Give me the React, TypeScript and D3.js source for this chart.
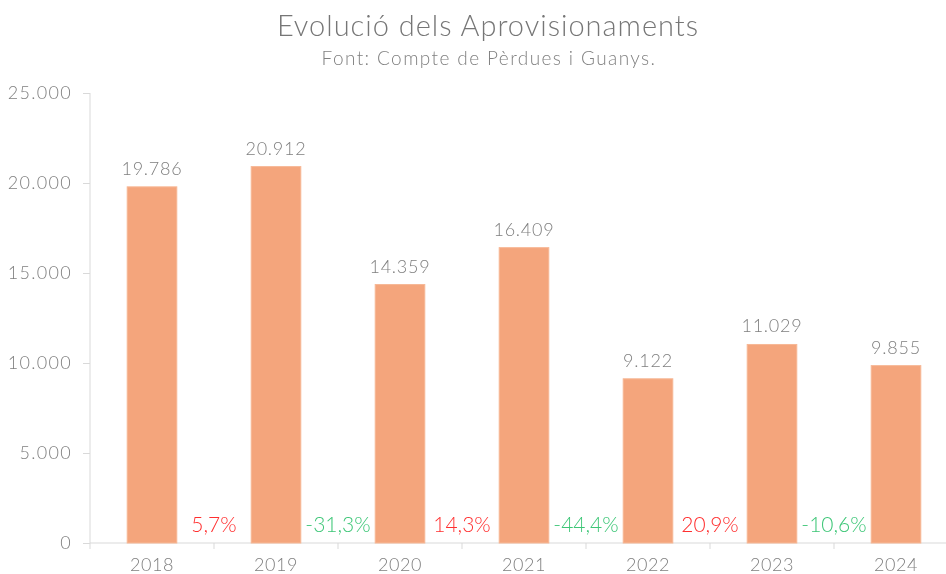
import React, { useEffect, useRef } from 'react';
import * as d3 from 'd3';

const years = ['2018', '2019', '2020', '2021', '2022', '2023', '2024'];
const values = [19786, 20912, 14359, 16409, 9122, 11029, 9855];
// year-on-year change, shown between bars (from 2019 on)
const changes = [5.7, -31.3, 14.3, -44.4, 20.9, -10.6];
const yTicks = [0, 5000, 10000, 15000, 20000, 25000];

const title = 'Evolució dels Aprovisionaments';
const subtitle = 'Font: Compte de Pèrdues i Guanys.';

const App = () => {
  const ref = useRef<SVGSVGElement>(null);

  useEffect(() => {
    const width = 946;
    const height = 574;
    const margin = { top: 93, right: -12, bottom: 31, left: 90 };
    const font = 'Lato, sans-serif';
    const gray = '#7f7f7f';

    const locale = d3.formatLocale({ decimal: ',', thousands: '.', grouping: [3], currency: ['', '€'], minus: '-' });
    const fmt = locale.format(',d');
    const fmtPct = (v: number) => locale.format('.1f')(v) + '%';

    const x = d3.scaleBand<string>()
      .domain(years)
      .range([margin.left, width - margin.right])
      .padding(0);

    const y = d3.scaleLinear()
      .domain([0, 25000])
      .range([height - margin.bottom, margin.top]);

    const svg = d3.select(ref.current)
      .attr('width', width)
      .attr('height', height)
      .attr('viewBox', `0 0 ${width} ${height}`)
      .style('font-family', font);

    svg.selectAll('*').remove();

    svg.append('text')
      .attr('x', 488).attr('y', 36)
      .attr('text-anchor', 'middle')
      .attr('font-size', 29).attr('font-weight', 300)
      .attr('letter-spacing', 1)
      .attr('fill', '#767676')
      .text(title);

    svg.append('text')
      .attr('x', 489).attr('y', 65)
      .attr('text-anchor', 'middle')
      .attr('font-size', 19).attr('font-weight', 300)
      .attr('letter-spacing', 1.4)
      .attr('fill', '#808080')
      .text(subtitle);

    // y axis
    const yAxis = svg.append('g')
      .attr('transform', `translate(${margin.left},0)`)
      .call(d3.axisLeft(y).tickValues(yTicks).tickFormat(d => fmt(+d)).tickSize(7).tickPadding(11).tickSizeOuter(0));
    yAxis.select('.domain').attr('stroke', '#d9d9d9').attr('d', `M0,${y(25000)}V${y(0) + 6}`);
    yAxis.selectAll('.tick line').attr('stroke', '#d9d9d9');
    yAxis.selectAll('.tick text')
      .attr('fill', gray).attr('font-size', 18).attr('font-weight', 300)
      .attr('letter-spacing', 1.3)
      .attr('font-family', font);

    // x axis: baseline and boundary ticks
    const x0 = y(0);
    svg.append('line')
      .attr('x1', margin.left).attr('x2', width)
      .attr('y1', x0).attr('y2', x0)
      .attr('stroke', '#d9d9d9');
    svg.append('g')
      .selectAll('line')
      .data(years.slice(1))
      .join('line')
      .attr('x1', d => x(d)!).attr('x2', d => x(d)!)
      .attr('y1', x0).attr('y2', x0 + 6)
      .attr('stroke', '#d9d9d9');

    svg.append('g')
      .selectAll('text')
      .data(years)
      .join('text')
      .attr('x', d => x(d)! + x.bandwidth() / 2)
      .attr('y', 571)
      .attr('text-anchor', 'middle')
      .attr('font-size', 18).attr('font-weight', 300)
      .attr('letter-spacing', 0.5)
      .attr('fill', gray)
      .text(d => d);

    // bars
    const bw = x.bandwidth() * 0.4;
    svg.append('g')
      .selectAll('rect')
      .data(values)
      .join('rect')
      .attr('x', (d, i) => x(years[i])! + (x.bandwidth() - bw) / 2)
      .attr('y', d => y(d))
      .attr('width', bw)
      .attr('height', d => y(0) - y(d))
      .attr('fill', '#f4a57c')
      .attr('stroke', '#f7b896')
      .attr('stroke-width', 1);

    svg.append('g')
      .selectAll('text')
      .data(values)
      .join('text')
      .attr('x', (d, i) => x(years[i])! + x.bandwidth() / 2)
      .attr('y', d => y(d) - 12)
      .attr('text-anchor', 'middle')
      .attr('font-size', 18).attr('font-weight', 300)
      .attr('letter-spacing', 0.8)
      .attr('fill', gray)
      .text(d => fmt(d));

    // change labels
    svg.append('g')
      .selectAll('text')
      .data(changes)
      .join('text')
      .attr('x', (d, i) => x(years[i + 1])!)
      .attr('y', 532)
      .attr('text-anchor', 'middle')
      .attr('font-size', 21).attr('font-weight', 300)
      .attr('fill', d => d >= 0 ? '#ff2f2f' : '#3cc676')
      .text(d => fmtPct(d));
  }, []);

  return (
    <div style={{ position: 'fixed', left: 0, top: 0 }}>
      <svg ref={ref} style={{ display: 'block' }}></svg>
    </div>
  );
};

export default App;
